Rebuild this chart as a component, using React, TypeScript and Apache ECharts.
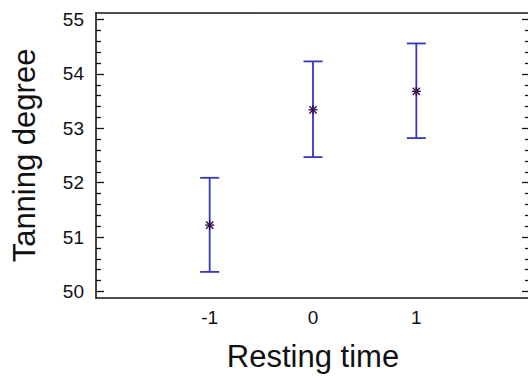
import React, { useEffect, useRef } from "react";
import * as echarts from "echarts";

const positions = [-1, 0, 1];
const means = [51.22, 53.34, 53.68];
const lowers = [50.36, 52.47, 52.82];
const uppers = [52.09, 54.23, 54.56];
const xTickLabels = [-1, 0, 1];
const yMajorTicks = [50, 51, 52, 53, 54, 55];
const yMinorTicks = [
  50.2, 50.4, 50.6, 50.8, 51.2, 51.4, 51.6, 51.8, 52.2, 52.4, 52.6, 52.8,
  53.2, 53.4, 53.6, 53.8, 54.2, 54.4, 54.6, 54.8,
];

const FONT = 'Arial, "Liberation Sans", sans-serif';
const FRAME = "#141414";
const BAR = "#3535c0";
const MARK = "#35104a";

export default function App() {
  const ref = useRef<HTMLDivElement>(null);
  useEffect(() => {
    if (!ref.current) return;
    const chart = echarts.init(ref.current, null, { renderer: "svg" });
    const yMin = 49.88;
    const yMax = 55.12;
    const baseY = {
      type: "value",
      min: yMin,
      max: yMax,
      splitLine: { show: false },
    };
    const data = positions.map((x, i) => [x, lowers[i], uppers[i], means[i]]);
    const frameLine = (show: boolean) => ({
      show,
      onZero: false,
      lineStyle: { color: FRAME, width: 1.6 },
    });
    chart.setOption({
      animation: false,
      backgroundColor: "#ffffff",
      grid: { left: 96, top: 13, right: -2, bottom: 84, outerBoundsMode: "none", containLabel: false },
      xAxis: [
        {
          type: "value",
          min: -2.1,
          max: 2.1,
          position: "bottom",
          splitLine: { show: false },
          axisLine: frameLine(true),
          axisTick: { show: false },
          axisLabel: {
            customValues: xTickLabels,
            fontSize: 19,
            fontFamily: FONT,
            color: "#111",
            margin: 10,
          },
          name: "Resting time",
          nameLocation: "middle",
          nameGap: 43,
          nameTextStyle: { fontSize: 31, fontFamily: FONT, color: "#111" },
        },
        {
          type: "value",
          min: -2.1,
          max: 2.1,
          position: "top",
          splitLine: { show: false },
          axisLine: frameLine(true),
          axisTick: { show: false },
          axisLabel: { show: false },
        },
      ],
      yAxis: [
        {
          ...baseY,
          position: "left",
          axisLine: frameLine(true),
          axisTick: {
            show: true,
            inside: true,
            length: 8,
            customValues: yMajorTicks,
            lineStyle: { color: FRAME, width: 1.3 },
          },
          axisLabel: {
            customValues: yMajorTicks,
            fontSize: 19,
            fontFamily: FONT,
            color: "#111",
            margin: 12,
          },
          name: "Tanning degree",
          nameLocation: "middle",
          nameGap: 56,
          nameTextStyle: { fontSize: 31, fontFamily: FONT, color: "#111" },
        },
        {
          ...baseY,
          position: "left",
          axisLine: frameLine(false),
          axisTick: {
            show: true,
            inside: true,
            length: 5,
            customValues: yMinorTicks,
            lineStyle: { color: FRAME, width: 1.3 },
          },
          axisLabel: { show: false },
        },
        {
          ...baseY,
          position: "right",
          axisLine: frameLine(true),
          axisTick: {
            show: true,
            inside: true,
            length: 8,
            customValues: yMajorTicks,
            lineStyle: { color: FRAME, width: 1.3 },
          },
          axisLabel: { show: false },
        },
        {
          ...baseY,
          position: "right",
          axisLine: frameLine(false),
          axisTick: {
            show: true,
            inside: true,
            length: 5,
            customValues: yMinorTicks,
            lineStyle: { color: FRAME, width: 1.3 },
          },
          axisLabel: { show: false },
        },
      ],
      series: [
        {
          type: "custom",
          xAxisIndex: 0,
          yAxisIndex: 0,
          data,
          renderItem: (params: any, api: any) => {
            const x = api.value(0);
            const pLo = api.coord([x, api.value(1)]);
            const pHi = api.coord([x, api.value(2)]);
            const pM = api.coord([x, api.value(3)]);
            const cap = 9.5;
            const s = 4.5;
            const d = 3.6;
            const barStyle = { stroke: BAR, lineWidth: 1.8 };
            const markStyle = { stroke: MARK, lineWidth: 1.4 };
            return {
              type: "group",
              children: [
                { type: "line", shape: { x1: pLo[0], y1: pLo[1], x2: pHi[0], y2: pHi[1] }, style: barStyle },
                { type: "line", shape: { x1: pLo[0] - cap, y1: pLo[1], x2: pLo[0] + cap, y2: pLo[1] }, style: barStyle },
                { type: "line", shape: { x1: pHi[0] - cap, y1: pHi[1], x2: pHi[0] + cap, y2: pHi[1] }, style: barStyle },
                { type: "line", shape: { x1: pM[0] - d, y1: pM[1] - d, x2: pM[0] + d, y2: pM[1] + d }, style: markStyle },
                { type: "line", shape: { x1: pM[0] - d, y1: pM[1] + d, x2: pM[0] + d, y2: pM[1] - d }, style: markStyle },
                { type: "line", shape: { x1: pM[0] - s, y1: pM[1], x2: pM[0] + s, y2: pM[1] }, style: markStyle },
                { type: "line", shape: { x1: pM[0], y1: pM[1] - s, x2: pM[0], y2: pM[1] + s }, style: markStyle },
              ],
            };
          },
        },
      ],
    });
    return () => chart.dispose();
  }, []);
  return (
    <div
      ref={ref}
      style={{ position: "fixed", left: 0, top: 0, width: 528, height: 382, background: "#fff" }}
    />
  );
}
